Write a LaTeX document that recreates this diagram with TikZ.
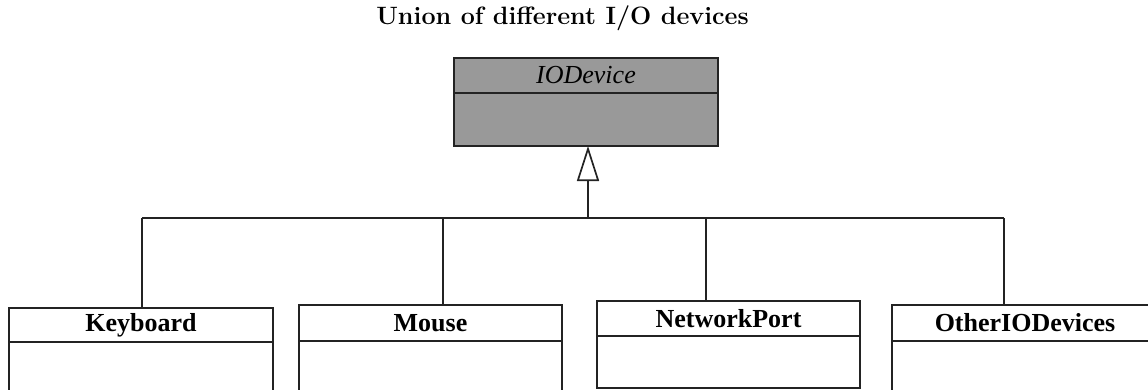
\documentclass[tikz,border=0pt]{standalone}
\usepackage{fontspec}
\newfontfamily\umlfont{Liberation Serif}
\usetikzlibrary{arrows.meta}
\definecolor{linecol}{RGB}{35,35,35}
\definecolor{absfill}{RGB}{153,153,153}
\begin{document}
\begin{tikzpicture}[x=1pt,y=-1pt,
  box/.style={draw=linecol,line width=1.7pt,inner sep=0pt,outer sep=0pt,anchor=north west},
  hdr/.style={box,font=\umlfont\bfseries\fontsize{26}{28}\selectfont},
  conn/.style={draw=linecol,line width=1.7pt},
  inh/.style={conn,-{Triangle[open,length=35pt,width=22pt]}},
]
\useasboundingbox (0,0) rectangle (1148,389);
\node[font=\bfseries\fontsize{25.1}{27}\selectfont] (title) at (562.5,18.5) {Union of different I/O devices};
% abstract class
\node[box,fill=absfill,minimum width=264pt,minimum height=35pt,font=\umlfont\itshape\fontsize{26}{28}\selectfont] (io) at (454,58) {IODevice};
\node[box,fill=absfill,minimum width=264pt,minimum height=53pt] (iob) at (454,93) {};
% subclasses
\node[hdr,minimum width=264pt,minimum height=34pt] (kb) at (9,308) {Keyboard};
\node[box,minimum width=264pt,minimum height=80pt] (kbb) at (9,342) {};
\node[hdr,minimum width=263pt,minimum height=36pt] (ms) at (299,305) {Mouse};
\node[box,minimum width=263pt,minimum height=80pt] (msb) at (299,341) {};
\node[hdr,minimum width=263pt,minimum height=35pt] (np) at (597,301) {NetworkPort};
\node[box,minimum width=263pt,minimum height=52pt] (npb) at (597,336) {};
\node[hdr,minimum width=266pt,minimum height=36pt] (ot) at (892,305) {OtherIODevices};
\node[box,minimum width=266pt,minimum height=80pt] (otb) at (892,341) {};
% connectors
\coordinate (jm) at (588,218);
\coordinate (jk) at (142,218);
\coordinate (jms) at (443,218);
\coordinate (jn) at (706,218);
\coordinate (jo) at (1004,218);
\draw[inh] (jm) -- (jm |- iob.south);
\draw[conn] (jk) -- (jo);
\draw[conn] (jk) -- (jk |- kb.north);
\draw[conn] (jms) -- (jms |- ms.north);
\draw[conn] (jn) -- (jn |- np.north);
\draw[conn] (jo) -- (jo |- ot.north);
\end{tikzpicture}
\end{document}
